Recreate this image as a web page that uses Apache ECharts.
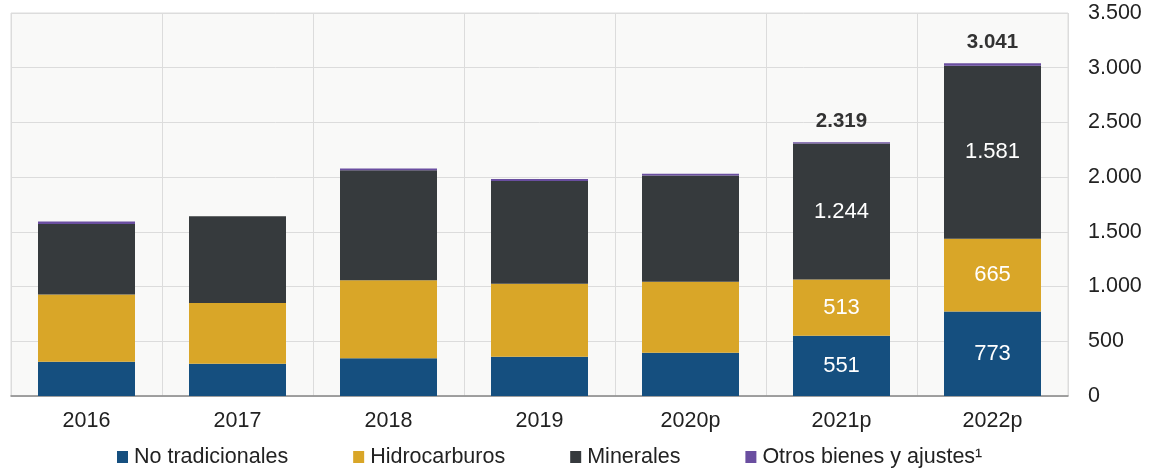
<!DOCTYPE html>
<html>
<head>
<meta charset="utf-8">
<script src="https://cdn.jsdelivr.net/npm/echarts@6/dist/echarts.min.js"></script>
<style>
html,body{margin:0;padding:0;background:#fff;}
#c{width:1157px;height:469px;}
</style>
</head>
<body>
<div id="c"></div>
<script>
const categories = ['2016','2017','2018','2019','2020p','2021p','2022p'];
const noTradicionales = [313, 295, 344, 359, 395, 551, 773];
const hidrocarburos = [615, 554, 714, 666, 648, 513, 665];
const minerales = [644, 793, 1004, 939, 971, 1244, 1581];
const otros = [22, 0, 18, 19, 18, 11, 22];
const totals = [null, null, null, null, null, 2319, 3041];
const labeledIdx = [5, 6];
const yTicks = [0, 500, 1000, 1500, 2000, 2500, 3000, 3500];

const fmt = v => String(v).replace(/\B(?=(\d{3})+(?!\d))/g, '.');
const FONT = '"Liberation Sans", Arial, sans-serif';
const FS = 21.5;

function segData(arr) {
  return arr.map((v, i) => labeledIdx.includes(i)
    ? { value: v, label: { show: true } }
    : { value: v });
}
const segLabel = {
  show: false, position: 'inside', color: '#fff', fontSize: 22,
  fontFamily: FONT, formatter: p => fmt(p.value)
};

const chart = echarts.init(document.getElementById('c'), null, {renderer: 'canvas'});
chart.setOption({
  animation: false,
  backgroundColor: '#ffffff',
  grid: {
    left: 11, right: 89, top: 13, bottom: 73,
    show: true, backgroundColor: '#f9f9f8', borderColor: '#dcdcdc', borderWidth: 1
  },
  legend: {
    top: 446, left: 117, padding: 0,
    itemWidth: 11, itemHeight: 12, itemGap: 65,
    icon: 'rect',
    textStyle: { fontSize: FS, color: '#222', fontFamily: FONT, padding: [0, 0, 0, 1] },
    data: ['No tradicionales', 'Hidrocarburos', 'Minerales', 'Otros bienes y ajustes¹']
  },
  xAxis: {
    type: 'category', data: categories, boundaryGap: true,
    axisLine: { show: true, lineStyle: { color: '#888', width: 1.5 } },
    axisTick: { show: false },
    axisLabel: { fontSize: FS, color: '#222', fontFamily: FONT, margin: 14 },
    splitLine: { show: true, lineStyle: { color: '#dcdcdc', width: 1 } }
  },
  yAxis: {
    type: 'value', position: 'right', min: 0, max: 3500, interval: 500,
    axisLine: { show: false }, axisTick: { show: false },
    axisLabel: { fontSize: FS, color: '#222', fontFamily: FONT, margin: 20,
      formatter: v => fmt(v) },
    splitLine: { show: true, lineStyle: { color: '#dcdcdc', width: 1 } }
  },
  series: [
    { name: 'No tradicionales', type: 'bar', stack: 't', barWidth: 97,
      itemStyle: { color: '#154f7f' }, label: segLabel, data: segData(noTradicionales) },
    { name: 'Hidrocarburos', type: 'bar', stack: 't',
      itemStyle: { color: '#d9a628' }, label: segLabel, data: segData(hidrocarburos) },
    { name: 'Minerales', type: 'bar', stack: 't',
      itemStyle: { color: '#363a3d' }, label: segLabel, data: segData(minerales) },
    { name: 'Otros bienes y ajustes¹', type: 'bar', stack: 't',
      itemStyle: { color: '#6a4ea0' },
      label: { show: false, position: 'top', distance: 10, color: '#333', fontSize: 20.5,
        fontWeight: 'bold', fontFamily: FONT,
        formatter: p => totals[p.dataIndex] != null ? fmt(totals[p.dataIndex]) : '' },
      data: otros.map((v, i) => totals[i] != null ? { value: v, label: { show: true } } : { value: v })
    }
  ]
});
</script>
</body>
</html>
